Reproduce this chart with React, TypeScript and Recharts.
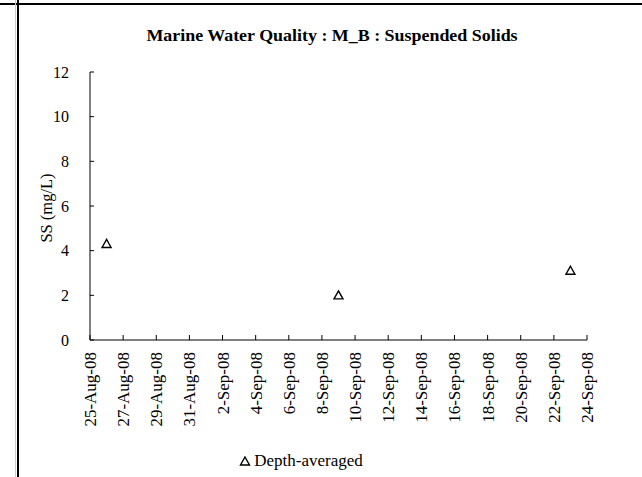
import { ScatterChart, Scatter, XAxis, YAxis, Legend } from 'recharts';

const sampleDates = ['2008-08-26', '2008-09-09', '2008-09-23'];
const ssValues = [4.3, 2.0, 3.1];
const xTickDates = [
  '2008-08-25', '2008-08-27', '2008-08-29', '2008-08-31', '2008-09-02', '2008-09-04',
  '2008-09-06', '2008-09-08', '2008-09-10', '2008-09-12', '2008-09-14', '2008-09-16',
  '2008-09-18', '2008-09-20', '2008-09-22', '2008-09-24',
];
const yTicks = [0, 2, 4, 6, 8, 10, 12];
const MONTHS = ['Jan', 'Feb', 'Mar', 'Apr', 'May', 'Jun', 'Jul', 'Aug', 'Sep', 'Oct', 'Nov', 'Dec'];

const FONT = '"Liberation Serif", "Times New Roman", serif';

const toDay = (s: string) => {
  const [y, m, d] = s.split('-').map(Number);
  return Date.UTC(y, m - 1, d) / 86400000;
};

const fmtDay = (day: number) => {
  const dt = new Date(day * 86400000);
  return `${dt.getUTCDate()}-${MONTHS[dt.getUTCMonth()]}-${String(dt.getUTCFullYear()).slice(2)}`;
};

const xTicks = xTickDates.map(toDay);
const data = sampleDates.map((d, i) => ({ day: toDay(d), ss: ssValues[i] }));

const Triangle = (props: any) => {
  const { cx, cy } = props;
  if (cx == null || cy == null) return null;
  return (
    <path
      d={`M${cx},${cy - 4.5} L${cx + 4.5},${cy + 3.5} L${cx - 4.5},${cy + 3.5} Z`}
      fill="none"
      stroke="#000"
      strokeWidth={1.4}
    />
  );
};

const XTick = (props: any) => {
  const { x, y, payload } = props;
  return (
    <g>
      <line x1={x} y1={y} x2={x} y2={y - 5} stroke="#000" strokeWidth={1} />
      <text
        transform={`translate(${x + 6},${y + 12}) rotate(-90)`}
        textAnchor="end"
        fontFamily={FONT}
        fontSize={17}
        fill="#000"
      >
        {fmtDay(payload.value)}
      </text>
    </g>
  );
};

const YTick = (props: any) => {
  const { x, y, payload } = props;
  return (
    <g>
      <line x1={x} y1={y} x2={x + 4} y2={y} stroke="#000" strokeWidth={1} />
      <text x={x - 21} y={y} dy="0.35em" textAnchor="end" fontFamily={FONT} fontSize={16} fill="#000">
        {payload.value}
      </text>
    </g>
  );
};

const LegendContent = () => (
  <div style={{ fontFamily: FONT, fontSize: 17, color: '#000', textAlign: 'center' }}>
    <svg width={12} height={10} style={{ marginRight: 3, verticalAlign: 'baseline' }}>
      <path d="M6,1 L10.5,9 L1.5,9 Z" fill="none" stroke="#000" strokeWidth={1.4} />
    </svg>
    Depth-averaged
  </div>
);

export default function App() {
  return (
    <div style={{ position: 'absolute', left: 0, top: 0, width: 642, height: 477, background: '#fff' }}>
      <div style={{ position: 'absolute', left: 0, top: 3, width: 642, height: 2, background: '#000' }} />
      <div style={{ position: 'absolute', left: 15, top: 0, width: 1, height: 477, background: '#ccc' }} />
      <div style={{ position: 'absolute', left: 17, top: 0, width: 2, height: 477, background: '#000' }} />
      <div
        style={{
          position: 'absolute',
          left: 90,
          width: 484,
          top: 27,
          textAlign: 'center',
          fontFamily: FONT,
          fontWeight: 'bold',
          fontSize: 16,
          color: '#000',
          transform: 'scaleX(1.12)',
          whiteSpace: 'nowrap',
        }}
      >
        Marine Water Quality : M_B : Suspended Solids
      </div>
      <div
        style={{
          position: 'absolute',
          left: 47,
          top: 208,
          transform: 'translate(-50%, -50%) rotate(-90deg)',
          fontFamily: FONT,
          fontSize: 16.5,
          color: '#000',
          whiteSpace: 'nowrap',
        }}
      >
        SS (mg/L)
      </div>
      <div style={{ position: 'absolute', left: 0, top: 0 }}>
        <ScatterChart width={642} height={477} margin={{ top: 72, right: 55, left: 40, bottom: 37 }}>
          <XAxis
            type="number"
            dataKey="day"
            domain={[xTicks[0], xTicks[xTicks.length - 1]]}
            ticks={xTicks}
            interval={0}
            tickSize={0}
            tickMargin={0}
            tick={<XTick />}
            height={100}
            axisLine={{ stroke: '#000', strokeWidth: 1 }}
            allowDataOverflow
          />
          <YAxis
            type="number"
            dataKey="ss"
            domain={[0, 12]}
            ticks={yTicks}
            interval={0}
            tickSize={0}
            tickMargin={0}
            tick={<YTick />}
            width={50}
            axisLine={{ stroke: '#000', strokeWidth: 1 }}
          />
          <Legend
            layout="horizontal"
            verticalAlign="middle"
            align="center"
            content={<LegendContent />}
            wrapperStyle={{ top: 451, left: 0, width: 602 }}
          />
          <Scatter data={data} shape={<Triangle />} isAnimationActive={false} name="Depth-averaged" />
        </ScatterChart>
      </div>
    </div>
  );
}
